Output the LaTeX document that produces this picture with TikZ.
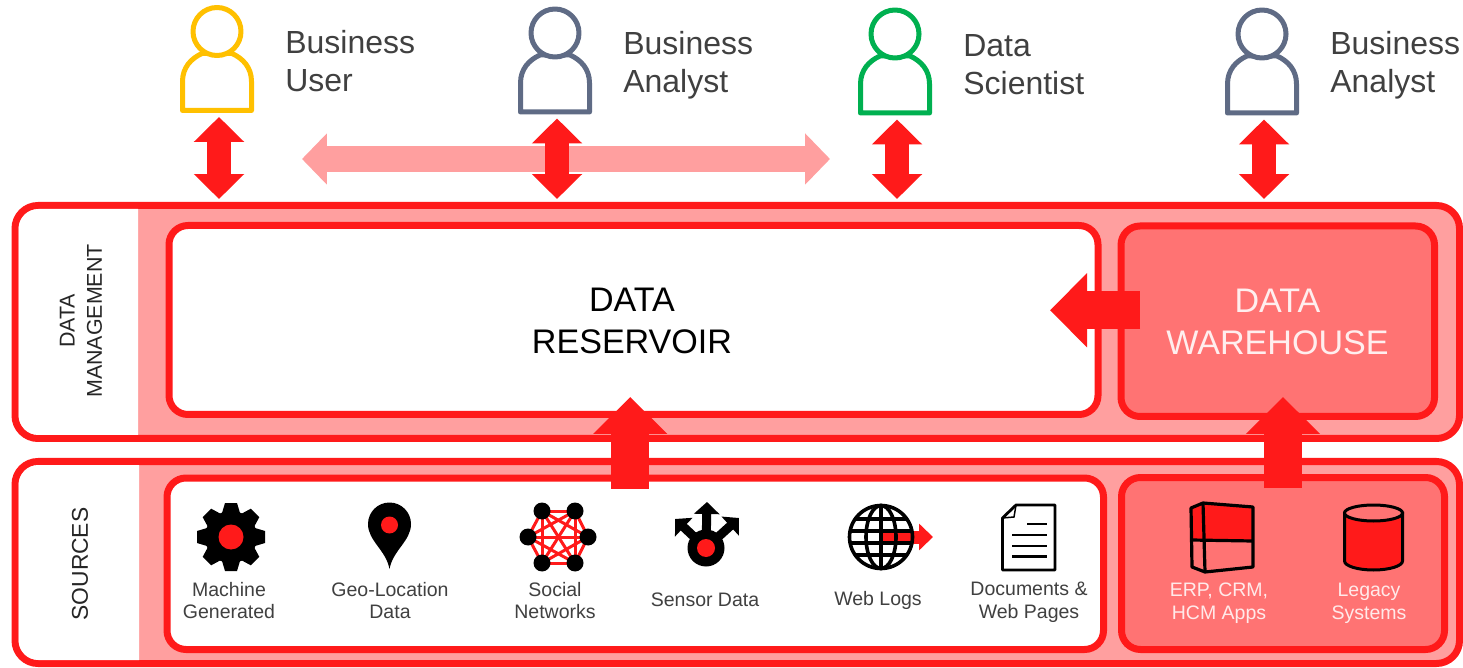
\documentclass[tikz,border=0pt]{standalone}
\usepackage{fontspec}
\setmainfont{Liberation Sans}
\usepackage{xcolor}
\usepackage{tikz}
\usetikzlibrary{arrows.meta,positioning,calc}

\definecolor{flowred}{HTML}{FF1A1A}
\definecolor{panelpink}{HTML}{FF9F9F}
\definecolor{panelsalmon}{HTML}{FF7373}
\definecolor{personamber}{HTML}{FFC000}
\definecolor{personslate}{HTML}{5F6B85}
\definecolor{persongreen}{HTML}{00B050}
\definecolor{labelgrey}{HTML}{404040}
\def\pxu{0.02cm}

\tikzset{
  outerpanel/.style={draw=flowred, line width=7*\pxu, fill=panelpink, rounded corners=0.46cm, inner sep=0pt, outer sep=0pt},
  innerpanel/.style={draw=flowred, line width=7*\pxu, rounded corners=0.38cm, inner sep=0pt, outer sep=0pt},
  persontext/.style={font=\fontsize{18.2}{21.8}\selectfont, text=labelgrey, align=left, anchor=west, inner sep=0pt},
  storetext/.style={font=\fontsize{19.4}{23.5}\selectfont, align=center, inner sep=0pt},
  sidetext/.style={font=\fontsize{12.2}{15.6}\selectfont, text=black!85, align=center, rotate=90, inner sep=0pt},
  sourcetext/.style={font=\fontsize{11.1}{13}\selectfont, text=labelgrey, align=center, inner sep=0pt},
  personbox/.style={minimum width=78*\pxu, minimum height=111*\pxu, inner sep=0pt, outer sep=0pt},
  twoway/.style={draw=flowred, line width=24.5*\pxu, {Triangle[length=0.5cm,width=0.98cm]}-{Triangle[length=0.5cm,width=0.98cm]}},
  feedarrow/.style={draw=flowred, line width=38*\pxu, -{Triangle[length=0.74cm,width=1.44cm]}},
  sensorarrow/.style={line width=9*\pxu, -{Triangle[length=0.24cm,width=0.5cm]}}
}

\begin{document}
\begin{tikzpicture}[x=0.02cm, y=-0.02cm]
\useasboundingbox (0,0) rectangle (1463,668);

% Outer panels
\node[outerpanel, minimum width=1444.5*\pxu, minimum height=233*\pxu] (mgmt) at (737.25,322) {};
\fill[white] (138,209) [rounded corners=0.4cm] -- (18.5,209) -- (18.5,435) [sharp corners] -- (138,435) -- cycle;
\node[outerpanel, minimum width=1444.5*\pxu, minimum height=202*\pxu] (sources) at (737.25,562.5) {};
\fill[white] (139,465) [rounded corners=0.4cm] -- (18.5,465) -- (18.5,660) [sharp corners] -- (139,660) -- cycle;

% Inner panels
\node[innerpanel, fill=white, minimum width=929*\pxu, minimum height=189*\pxu] (reservoir) at (633.5,320) {};
\node[storetext] (reservoirtext) at (632,321) {DATA\\RESERVOIR};
\node[innerpanel, fill=panelsalmon, minimum width=313.5*\pxu, minimum height=190.5*\pxu] (warehouse) at (1277.75,321.25) {};
\node[storetext, text=white!88!panelsalmon] (warehousetext) at (1277.5,322) {DATA\\WAREHOUSE};
\node[innerpanel, fill=white, minimum width=936.5*\pxu, minimum height=171.5*\pxu] (feeds) at (635.25,563.75) {};
\node[innerpanel, fill=panelsalmon, minimum width=323*\pxu, minimum height=172*\pxu] (archive) at (1283,563.5) {};

% Side labels
\node[sidetext] (mgmtlabel) at (81,321) {DATA\\MANAGEMENT};
\node[sidetext, font=\fontsize{13}{15.6}\selectfont] (sourceslabel) at (80,564) {SOURCES};

% People
\foreach \whoname/\whox/\whoy/\whocol in {userA/219/31.5/personamber, userB/557/33/personslate, userC/897/34/persongreen, userD/1264/34/personslate} {
  \node[personbox] (\whoname) at (\whox,\whoy+30) {};
  \begin{scope}[shift={(\whox-2,\whoy)}, draw=\whocol, line width=5*\pxu, line join=round]
    \draw (-34.5,79) -- (-34.5,50) .. controls (-34.5,36) and (-26,27) .. (-15,22) -- (15,22) .. controls (26,27) and (34.5,36) .. (34.5,50) -- (34.5,79) -- cycle;
    \draw[fill=white] (0,0) ellipse [x radius=24, y radius=24];
  \end{scope}
}
\node[persontext] (userAtext) at (285,61) {Business\\User};
\node[persontext] (userBtext) at (623,65.5) {Business\\Analyst};
\node[persontext] (userCtext) at (963,64.5) {Data\\Scientist};
\node[persontext] (userDtext) at (1330,65.5) {Business\\Analyst};

% Shared exchange
\coordinate (sharedleft) at (302,159);
\coordinate (sharedright) at (830,159);
\draw[draw=panelpink, line width=26*\pxu, {Triangle[length=0.5cm,width=1cm]}-{Triangle[length=0.5cm,width=1cm]}] (sharedleft) -- (sharedright);

% Access arrows
\foreach \whoname in {userA,userB,userC,userD}
  \draw[twoway, shorten >=6.5*\pxu] (\whoname.south) -- (\whoname.south |- mgmt.north);

% Feeds between stores
\draw[feedarrow, shorten <=-10.5*\pxu, shorten >=-17.5*\pxu] ([xshift=-5*\pxu]feeds.north) -- ([xshift=-5*\pxu]feeds.north |- reservoir.south);
\draw[feedarrow, shorten <=-10.5*\pxu, shorten >=-19.5*\pxu] (archive.north) -- (archive.north |- warehouse.south);
\draw[feedarrow, shorten <=-19*\pxu, shorten >=-48*\pxu] ([yshift=11*\pxu]warehouse.west) -- ([yshift=11*\pxu]warehouse.west -| reservoir.east);

% Machine generated
\fill (231,537) circle [radius=26];
\foreach \ang in {0,45,...,315}
  \fill[shift={(231,537)}, rotate=\ang] (-9,-24) -- (-6,-34) -- (6,-34) -- (9,-24) -- cycle;
\fill[flowred] (231,537) circle [radius=12.5];
\node[sourcetext] (machinetext) at (229,600.5) {Machine\\Generated};

% Geo location
\fill (389.5,569) .. controls (386,550) and (368,541) .. (368,524) arc [start angle=180, end angle=360, radius=21.5] .. controls (411,541) and (393,550) .. (389.5,569) -- cycle;
\fill[flowred] (389.5,525) circle [radius=8.5];
\node[sourcetext] (geotext) at (390,600.5) {Geo-Location\\Data};

% Social networks
\coordinate (sn1) at (542,511);
\coordinate (sn2) at (575,511);
\coordinate (sn3) at (588,537);
\coordinate (sn4) at (575,563);
\coordinate (sn5) at (542,563);
\coordinate (sn6) at (528,537);
\foreach \a/\b in {1/2,1/3,1/4,1/5,1/6,2/3,2/4,2/5,2/6,3/4,3/5,3/6,4/5,4/6,5/6}
  \draw[flowred, line width=3*\pxu] (sn\a) -- (sn\b);
\foreach \a in {1,...,6}
  \fill (sn\a) circle [radius=8.5];
\node[sourcetext] (socialtext) at (555,600.5) {Social\\Networks};

% Sensor data
\draw[sensorarrow] (706,548) -- (707,502);
\draw[sensorarrow] (706,548) -- (675,519);
\draw[sensorarrow] (706,548) -- (739,518);
\fill (706,548) circle [radius=18.5];
\fill[flowred] (706,548) circle [radius=9];
\node[sourcetext] (sensortext) at (705,600) {Sensor Data};

% Web logs
\fill[white] (881,537) circle [radius=33];
\draw[flowred, line width=13*\pxu, -{Triangle[length=0.28cm,width=0.52cm]}] (883,537) -- (933,537);
\begin{scope}[line width=3.6*\pxu]
  \draw (881,537) circle [radius=31.5];
  \draw (881,505) -- (881,569);
  \draw (881,537) ellipse [x radius=15, y radius=31.5];
  \draw (855,519) -- (907,519);
  \draw (850,531) -- (912,531);
  \draw (850,543) -- (912,543);
  \draw (855,555) -- (907,555);
\end{scope}
\node[sourcetext] (webtext) at (878,600) {Web Logs};

% Documents
\draw[line width=2.8*\pxu, fill=white, line join=round] (1016,505) -- (1055,505) -- (1055,570) -- (1002.5,570) -- (1002.5,518) -- cycle;
\draw[line width=1.5*\pxu] (1002.5,518) -- (1014,517) -- (1016,505);
\foreach \liney/\linex in {524/1027,535/1012,546/1012,556.5/1012}
  \draw[line width=2.8*\pxu] (\linex,\liney) -- (1047,\liney);
\node[sourcetext] (docstext) at (1029,602.5) {Documents \&\\Web Pages};

% Apps
\fill[flowred] (1191,508) -- (1203,503) -- (1253,507) -- (1253,540) -- (1191,540) -- cycle;
\begin{scope}[line width=3.2*\pxu, line join=round]
  \draw (1191,508) -- (1203,503) -- (1253,507) -- (1253,567) -- (1205,572) -- (1192,567) -- cycle;
  \draw (1203,503) -- (1205,572);
  \draw (1191,540) -- (1253,541);
\end{scope}
\node[sourcetext, text=white!85!panelsalmon] (appstext) at (1219,603.5) {ERP, CRM,\\HCM Apps};

% Legacy
\draw[line width=3*\pxu, fill=flowred] (1344.5,513) -- (1344.5,561) arc [start angle=180, end angle=0, x radius=29, y radius=9] -- (1402.5,513) -- cycle;
\draw[line width=3*\pxu, fill=panelsalmon] (1373.5,513) ellipse [x radius=29, y radius=8];
\node[sourcetext, text=white!85!panelsalmon] (legacytext) at (1369,603.5) {Legacy\\Systems};

\end{tikzpicture}
\end{document}
